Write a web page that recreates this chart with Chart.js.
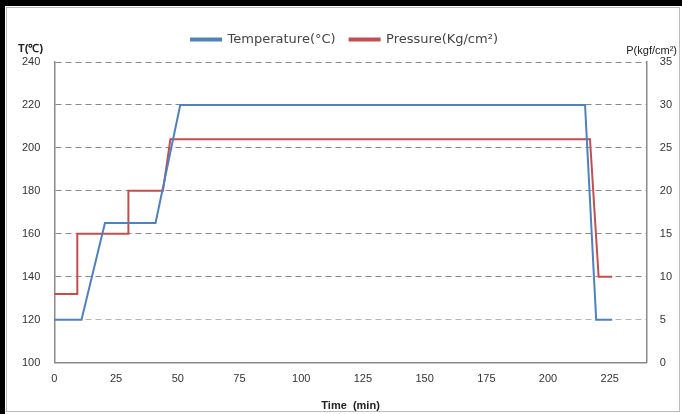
<!DOCTYPE html>
<html>
<head>
<meta charset="utf-8">
<script src="https://cdn.jsdelivr.net/npm/chart.js@4"></script>
<style>
  html, body { margin: 0; padding: 0; background: #fff; }
  #wrap { width: 682px; height: 414px; position: relative; }
</style>
</head>
<body>
<div id="wrap"><canvas id="cure"></canvas></div>
<script>
// temperature profile (min, °C)
const tempTime = [0, 11, 20.5, 41, 51, 215, 219.5, 226];
const tempValue = [120, 120, 165, 165, 220, 220, 120, 120];

// pressure profile (min, kgf/cm²)
const pressTime = [0, 9.3, 9.3, 30, 30, 44, 47, 217, 220.5, 226];
const pressValue = [8, 8, 15, 15, 20, 20, 26, 26, 10, 10];

const leftTicks = [100, 120, 140, 160, 180, 200, 220, 240];
const rightTicks = [0, 5, 10, 15, 20, 25, 30, 35];
const timeTicks = [0, 25, 50, 75, 100, 125, 150, 175, 200, 225];

const toPoints = (xs, ys) => xs.map((x, i) => ({ x: x, y: ys[i] }));
const font = "'Liberation Sans', Arial, sans-serif";

const frame = {
  id: "frame",
  beforeInit(chart) {
    // leave a bit more room under the legend
    const fit = chart.legend.fit;
    chart.legend.fit = function () {
      fit.call(this);
      this.height += 6;
    };
  },
  beforeDraw(chart) {
    const ctx = chart.ctx;
    ctx.save();
    ctx.fillStyle = "#fff";
    ctx.fillRect(0, 0, chart.width, chart.height);
    ctx.fillStyle = "#000";
    ctx.fillRect(0, 0, chart.width, 6);
    ctx.fillRect(0, 0, 5, chart.height);
    ctx.strokeStyle = "#bbb";
    ctx.lineWidth = 1;
    ctx.strokeRect(6.5, 7.5, chart.width - 9, chart.height - 10);
    ctx.restore();
  },
  afterDraw(chart) {
    const ctx = chart.ctx;
    const a = chart.chartArea;
    ctx.save();
    ctx.fillStyle = "#222";
    ctx.font = "bold 11px " + font;
    ctx.textAlign = "left";
    ctx.fillText("T(℃)", 18, a.top - 13);
    ctx.textAlign = "right";
    ctx.font = "11px " + font;
    ctx.fillText("P(kgf/cm²)", 677, a.top - 11);
    ctx.restore();
  }
};

const gridColor = "#8a8a8a";

new Chart(document.querySelector("#cure"), {
  type: "line",
  data: {
    datasets: [
      {
        label: "Temperature(°C)",
        data: toPoints(tempTime, tempValue),
        borderColor: "#4f81bd",
        backgroundColor: "#4f81bd",
        borderWidth: 2,
        pointRadius: 0,
        yAxisID: "yT",
      },
      {
        label: "Pressure(Kg/cm²)",
        data: toPoints(pressTime, pressValue),
        borderColor: "#c0504d",
        backgroundColor: "#c0504d",
        borderWidth: 2,
        pointRadius: 0,
        yAxisID: "yP",
      },
    ],
  },
  options: {
    responsive: true,
    maintainAspectRatio: false,
    animation: false,
    layout: { padding: { top: 19, left: 8, right: 1, bottom: 1 } },
    plugins: {
      legend: {
        position: "top",
        labels: {
          boxWidth: 30,
          boxHeight: 2,
          color: "#444",
          padding: 14,
          font: { size: 13, family: "'DejaVu Sans', sans-serif" },
        },
      },
      tooltip: { enabled: false },
    },
    scales: {
      x: {
        type: "linear",
        min: 0,
        max: 240,
        afterBuildTicks: (s) => { s.ticks = timeTicks.map((v) => ({ value: v })); },
        grid: { display: false, drawTicks: true, tickLength: 4, color: gridColor },
        border: { color: gridColor, width: 1.5 },
        ticks: { color: "#333", padding: 6, font: { size: 11, family: font }, maxRotation: 0 },
        title: {
          display: true,
          text: "Time  (min)",
          color: "#222",
          padding: { top: 8, bottom: 0 },
          font: { size: 11, weight: "bold", family: font },
        },
      },
      yT: {
        position: "left",
        min: 100,
        max: 240,
        afterBuildTicks: (s) => { s.ticks = leftTicks.map((v) => ({ value: v })); },
        grid: {
          color: (c) => (c.tick && c.tick.value === 120 ? "#b5b5b5" : gridColor),
          drawTicks: false,
        },
        border: { color: gridColor, width: 1.5, dash: [6, 4] },
        ticks: { color: "#333", padding: 14, font: { size: 11, family: font } },
      },
      yP: {
        position: "right",
        min: 0,
        max: 35,
        afterBuildTicks: (s) => { s.ticks = rightTicks.map((v) => ({ value: v })); },
        grid: { display: false, tickLength: 4, color: gridColor },
        border: { color: gridColor, width: 1.5 },
        ticks: { color: "#333", padding: 9, font: { size: 11, family: font } },
      },
    },
  },
  plugins: [frame],
});
</script>
</body>
</html>
